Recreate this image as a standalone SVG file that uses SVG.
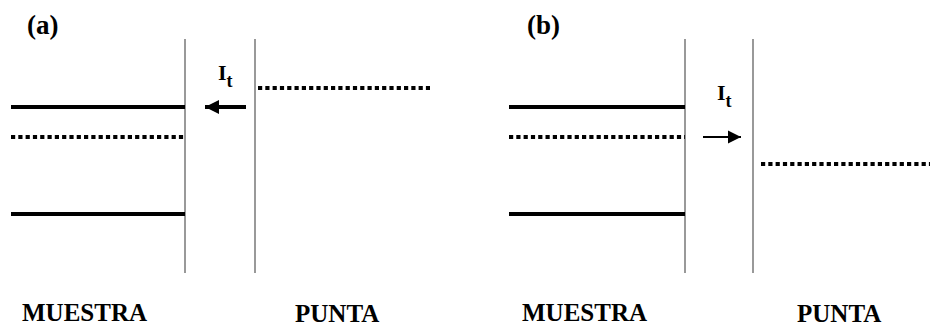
<svg xmlns="http://www.w3.org/2000/svg" width="930" height="330" viewBox="0 0 930 330">
<style>
.wall{stroke:#999;stroke-width:2;fill:none}
.solid{stroke:#000;stroke-width:4;fill:none}
.dot{stroke:#000;stroke-width:4;stroke-dasharray:4.2 3.1;fill:none}
.lbl{font-family:"Liberation Serif","Times New Roman",serif;font-weight:bold;fill:#000}
</style>
<defs>
<marker id="ah" viewBox="0 0 10 10" refX="10" refY="5" markerWidth="3.6" markerHeight="3.6" orient="auto" markerUnits="strokeWidth">
<path d="M0,0 L10,5 L0,10 z" fill="#000"/>
</marker>
<marker id="ah2" viewBox="0 0 10 10" refX="10" refY="5" markerWidth="6" markerHeight="6" orient="auto" markerUnits="strokeWidth">
<path d="M0,0 L10,5 L0,10 z" fill="#000"/>
</marker>
</defs>
<g id="panel-a">
<text class="lbl" x="27" y="34" font-size="27">(a)</text>
<line class="wall" x1="185" y1="39" x2="185" y2="273"/>
<line class="wall" x1="255" y1="39" x2="255" y2="273"/>
<line class="solid" x1="11" y1="107" x2="185" y2="107"/>
<line class="dot" x1="11" y1="137" x2="185" y2="137"/>
<line class="solid" x1="11" y1="214" x2="185" y2="214"/>
<line class="dot" x1="258" y1="88" x2="430" y2="88"/>
<text class="lbl" x="218" y="80" font-size="22">I<tspan font-size="18" dy="7">t</tspan></text>
<text class="lbl" x="22" y="321" font-size="25">MUESTRA</text>
<text class="lbl" x="295" y="322" font-size="25">PUNTA</text>
</g>
<g id="panel-b">
<text class="lbl" x="527" y="34" font-size="27">(b)</text>
<line class="wall" x1="685" y1="39" x2="685" y2="273"/>
<line class="wall" x1="753" y1="39" x2="753" y2="273"/>
<line class="solid" x1="509" y1="107" x2="685" y2="107"/>
<line class="dot" x1="509" y1="137" x2="685" y2="137"/>
<line class="solid" x1="509" y1="214" x2="685" y2="214"/>
<line class="dot" x1="761" y1="164" x2="930" y2="164"/>
<text class="lbl" x="717" y="100" font-size="22">I<tspan font-size="18" dy="7">t</tspan></text>
<text class="lbl" x="522" y="321" font-size="25">MUESTRA</text>
<text class="lbl" x="797" y="322" font-size="25">PUNTA</text>
</g>
<g id="connectors">
<line x1="246" y1="107" x2="205" y2="107" stroke="#000" stroke-width="4" marker-end="url(#ah)"/>
<line x1="703" y1="137" x2="741" y2="137" stroke="#000" stroke-width="2.2" marker-end="url(#ah2)"/>
</g>
</svg>
